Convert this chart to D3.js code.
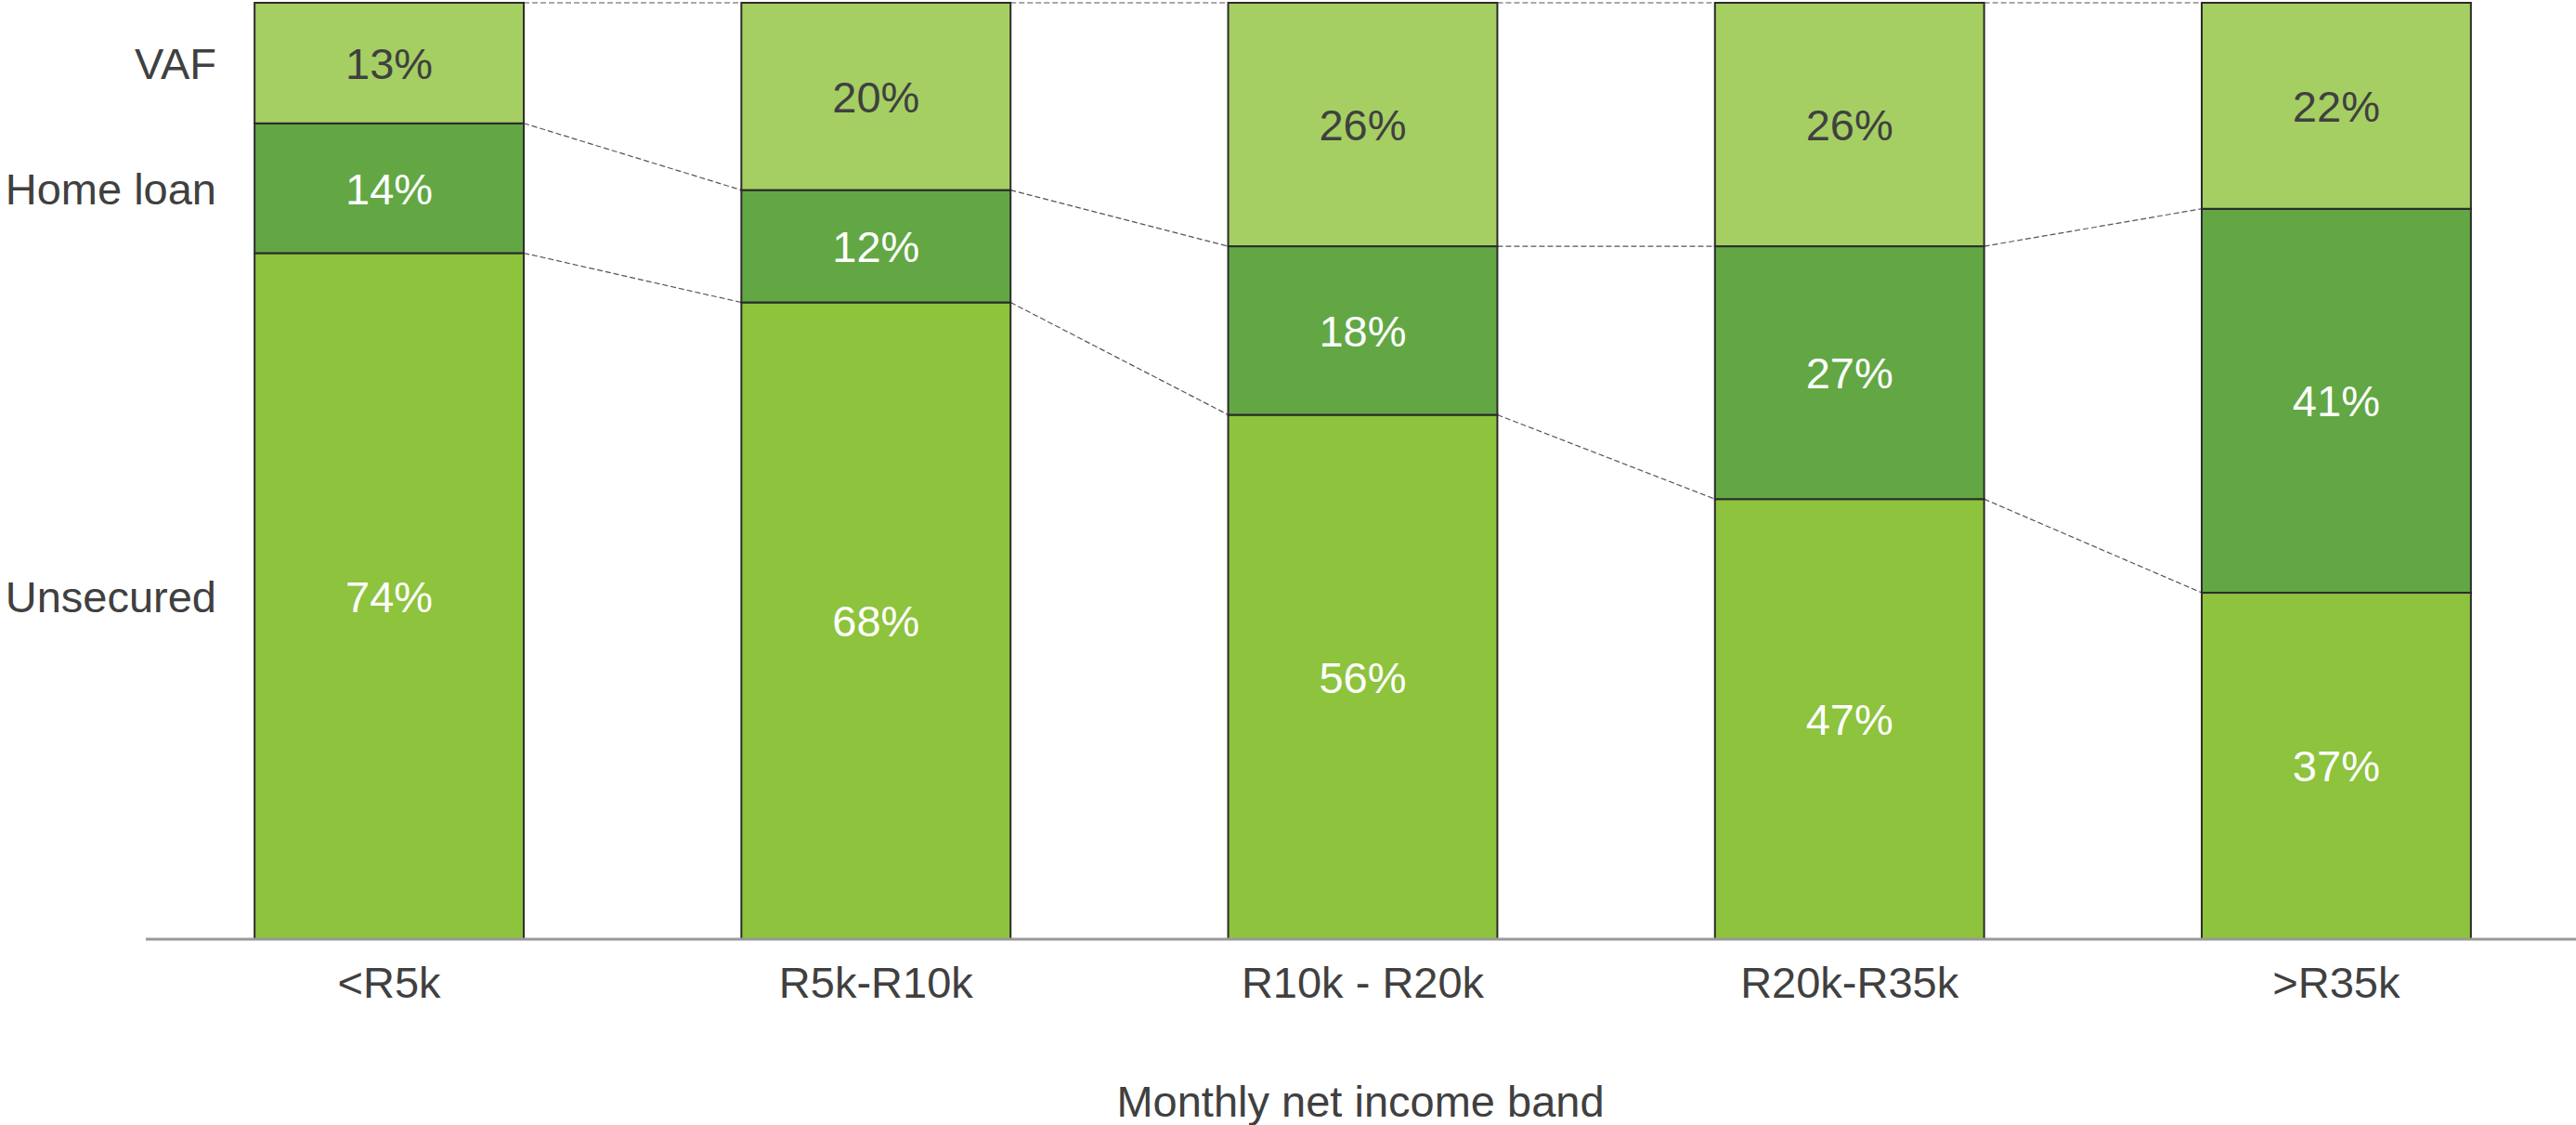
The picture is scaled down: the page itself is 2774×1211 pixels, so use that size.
<!DOCTYPE html>
<html>
<head>
<meta charset="utf-8">
<script src="https://cdn.jsdelivr.net/npm/d3@7"></script>
<style>
  body { margin: 0; background: #fff; }
  text { font-family: "Liberation Sans", Arial, sans-serif; }
</style>
</head>
<body>
<div id="chart"></div>
<script>
const width = 2774
const height = 1211

// data
const bands = ["<R5k", "R5k-R10k", "R10k - R20k", "R20k-R35k", ">R35k"]
const seriesNames = ["Unsecured", "Home loan", "VAF"]
const unsecured = [74, 68, 56, 47, 37]
const homeLoan = [14, 12, 18, 27, 41]
const vaf = [13, 20, 26, 26, 22]

const colors = ["#8dc33d", "#62a744", "#a5cf62"]
const labelColors = ["#ffffff", "#ffffff", "#404040"]

const rows = bands.map((b, i) => ({
  band: b,
  "Unsecured": unsecured[i],
  "Home loan": homeLoan[i],
  "VAF": vaf[i]
}))

const svg = d3.select("#chart")
  .append("svg")
    .attr("width", width)
    .attr("height", height)

const x = d3.scaleBand()
  .domain(bands)
  .range([157, 2778])
  .paddingInner(0.447)
  .paddingOuter(0.2235)

const y = d3.scaleLinear()
  .domain([0, 1])
  .range([1011, 3])

const stack = d3.stack()
  .keys(seriesNames)
  .offset(d3.stackOffsetExpand)
const layers = stack(rows)

// dashed connectors between bars
const links = []
layers.forEach(layer => {
  for (let i = 0; i < layer.length - 1; i++) {
    links.push({
      x1: x(bands[i]) + x.bandwidth(),
      y1: y(layer[i][1]),
      x2: x(bands[i + 1]),
      y2: y(layer[i + 1][1])
    })
  }
})

svg.append("g")
  .selectAll("line")
  .data(links)
  .join("line")
    .attr("x1", d => d.x1)
    .attr("y1", d => d.y1)
    .attr("x2", d => d.x2)
    .attr("y2", d => d.y2)
    .attr("stroke", "#555")
    .attr("stroke-width", 1.2)
    .attr("stroke-dasharray", "6,3")

// stacked bars
const groups = svg.append("g")
  .selectAll("g")
  .data(layers)
  .join("g")
    .attr("fill", (d, i) => colors[i])

groups.selectAll("rect")
  .data(d => d)
  .join("rect")
    .attr("x", d => x(d.data.band))
    .attr("y", d => y(d[1]))
    .attr("width", x.bandwidth())
    .attr("height", d => y(d[0]) - y(d[1]))
    .attr("stroke", "#2b2b2b")
    .attr("stroke-width", 2)

// value labels
layers.forEach((layer, li) => {
  svg.append("g")
    .selectAll("text")
    .data(layer)
    .join("text")
      .attr("x", d => x(d.data.band) + x.bandwidth() / 2)
      .attr("y", d => (y(d[0]) + y(d[1])) / 2)
      .attr("dy", "0.36em")
      .attr("text-anchor", "middle")
      .style("font-size", "47px")
      .attr("fill", labelColors[li])
      .text(d => d.data[layer.key] + "%")
})

// series labels on the left, aligned with first bar
svg.append("g")
  .selectAll("text")
  .data(layers)
  .join("text")
    .attr("x", 233)
    .attr("y", d => (y(d[0][0]) + y(d[0][1])) / 2)
    .attr("dy", "0.36em")
    .attr("text-anchor", "end")
    .style("font-size", "47px")
    .attr("fill", "#404040")
    .text(d => d.key)

// x axis
const xAxis = svg.append("g")
  .attr("transform", "translate(0," + y(0) + ")")
  .call(d3.axisBottom(x).tickSize(0).tickPadding(63))

xAxis.select(".domain")
  .attr("d", "M157,0H2774")
  .attr("stroke", "#999")
  .attr("stroke-width", 3)

xAxis.selectAll(".tick text")
  .style("font-size", "47px")
  .style("font-family", "'Liberation Sans', Arial, sans-serif")
  .attr("fill", "#404040")
  .attr("dy", "0")

svg.append("text")
  .attr("x", 1465)
  .attr("y", 1202)
  .attr("text-anchor", "middle")
  .style("font-size", "47px")
  .attr("fill", "#404040")
  .text("Monthly net income band")
</script>
</body>
</html>
